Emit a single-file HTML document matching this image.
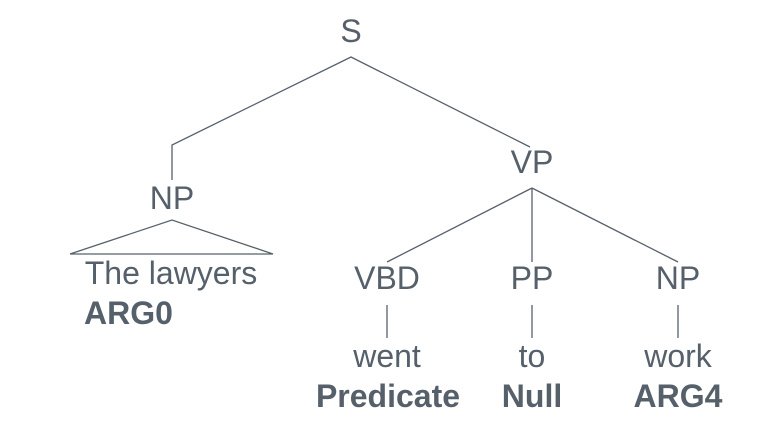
<!DOCTYPE html>
<html><head><style>
body{margin:0;background:#fff;}
svg{display:block;}
text{font-family:"Liberation Sans",sans-serif;fill:#56606b;font-size:32px;text-anchor:middle;}
.b{font-weight:bold;}
line,polyline,polygon{stroke:#56606b;stroke-width:1.3;fill:none;}
</style></head><body>
<svg width="776" height="428" viewBox="0 0 776 428">
<text x="351" y="42">S</text>
<polyline points="172,180 172,145 351,57 530,147"/>
<text x="172" y="209">NP</text>
<polyline points="70,254 172,220 273,254 70,254"/>
<text x="171" y="284">The lawyers</text>
<text x="84" y="324" class="b" style="text-anchor:start">ARG0</text>
<text x="532" y="173">VP</text>
<line x1="532" y1="188" x2="387" y2="262"/>
<line x1="532" y1="188" x2="532" y2="262"/>
<line x1="532" y1="188" x2="678" y2="262"/>
<text x="387" y="289">VBD</text>
<text x="532" y="289">PP</text>
<text x="678" y="289">NP</text>
<line x1="387" y1="305" x2="387" y2="338"/>
<line x1="532" y1="305" x2="532" y2="338"/>
<line x1="678" y1="305" x2="678" y2="338"/>
<text x="387" y="367">went</text>
<text x="532" y="367">to</text>
<text x="678" y="367">work</text>
<text x="388" y="407" class="b">Predicate</text>
<text x="532" y="407" class="b">Null</text>
<text x="678" y="407" class="b">ARG4</text>
</svg>
</body></html>
